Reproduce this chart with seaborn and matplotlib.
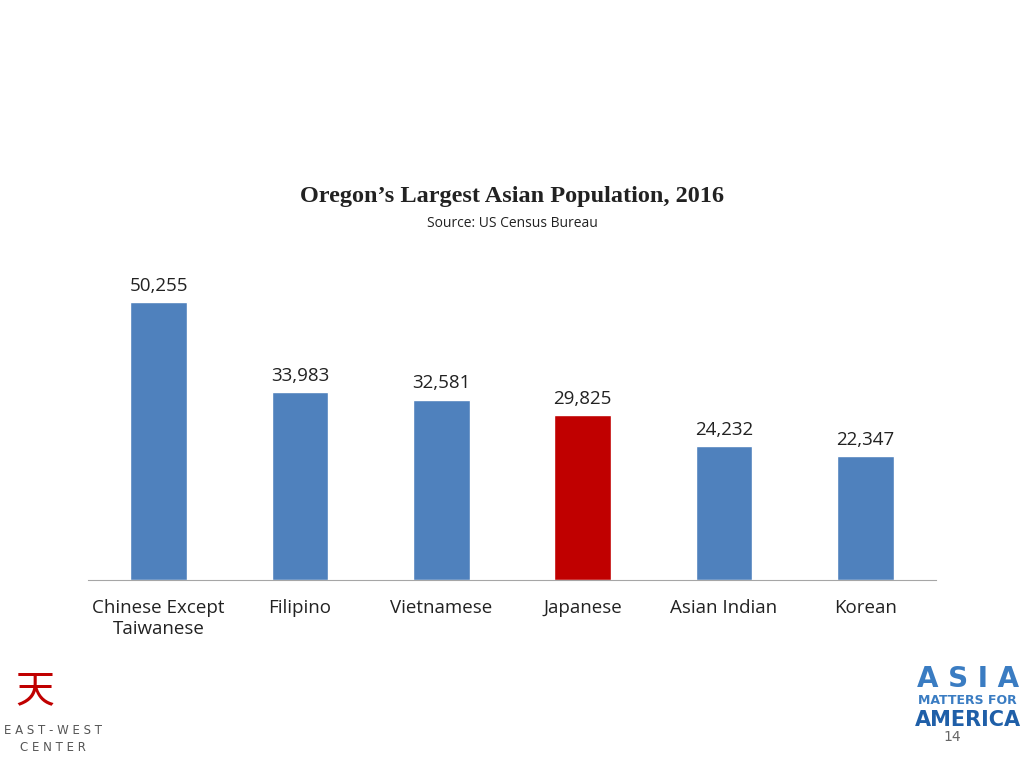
import pandas as pd
import matplotlib.pyplot as plt
import seaborn as sns

groups = ["Chinese Except\nTaiwanese", "Filipino", "Vietnamese", "Japanese", "Asian Indian", "Korean"]
population = [50255, 33983, 32581, 29825, 24232, 22347]
bar_colors = ["#4F81BD", "#4F81BD", "#4F81BD", "#C00000", "#4F81BD", "#4F81BD"]

df = pd.DataFrame({"group": groups, "population": population})

sns.set_style("white")
fig = plt.figure(figsize=(10.24, 7.68), dpi=100)
ax = fig.add_axes([0.086, 0.245, 0.828, 0.432])

sns.barplot(data=df, x="group", y="population", hue="group", palette=bar_colors,
            width=0.4, legend=False, ax=ax, saturation=1)

for i, v in enumerate(population):
    ax.text(i, v + 1300, f"{v:,}", ha="center", va="bottom", fontsize=13.5,
            family="Open Sans", color="#222222")

ax.set_ylim(0, 60000)
ax.set_xlim(-0.5, 5.5)
ax.set_yticks([])
ax.set_xlabel("")
ax.set_ylabel("")
for s in ["top", "right", "left"]:
    ax.spines[s].set_visible(False)
ax.spines["bottom"].set_color("#A6A6A6")
ax.tick_params(axis="x", length=0, pad=14)
for lbl in ax.get_xticklabels():
    lbl.set_fontsize(13.5)
    lbl.set_family("Open Sans")
    lbl.set_color("#222222")

fig.text(0.5, 0.737, "Oregon’s Largest Asian Population, 2016", ha="center",
         fontsize=17.5, weight="bold", family="Liberation Serif", color="#222222")
fig.text(0.5, 0.705, "Source: US Census Bureau", ha="center", fontsize=10,
         family="Open Sans", color="#222222")

# footer marks
fig.text(0.034, 0.085, "天", fontsize=28, color="#C00000",
         family="Noto Sans CJK JP", ha="center")
fig.text(0.052, 0.022, "E A S T - W E S T\nC E N T E R", fontsize=8.5, color="#555555",
         ha="center", family="DejaVu Sans", linespacing=1.4)
fig.text(0.945, 0.105, "A S I A", fontsize=20, color="#3A7CC2", weight="bold", ha="center")
fig.text(0.945, 0.083, "MATTERS FOR", fontsize=9, color="#3A7CC2", weight="bold", ha="center")
fig.text(0.945, 0.055, "AMERICA", fontsize=15, color="#1F5FA8", weight="bold", ha="center")
fig.text(0.93, 0.035, "14", fontsize=10, color="#666666", ha="center")

fig.savefig("out.png", dpi=100)
